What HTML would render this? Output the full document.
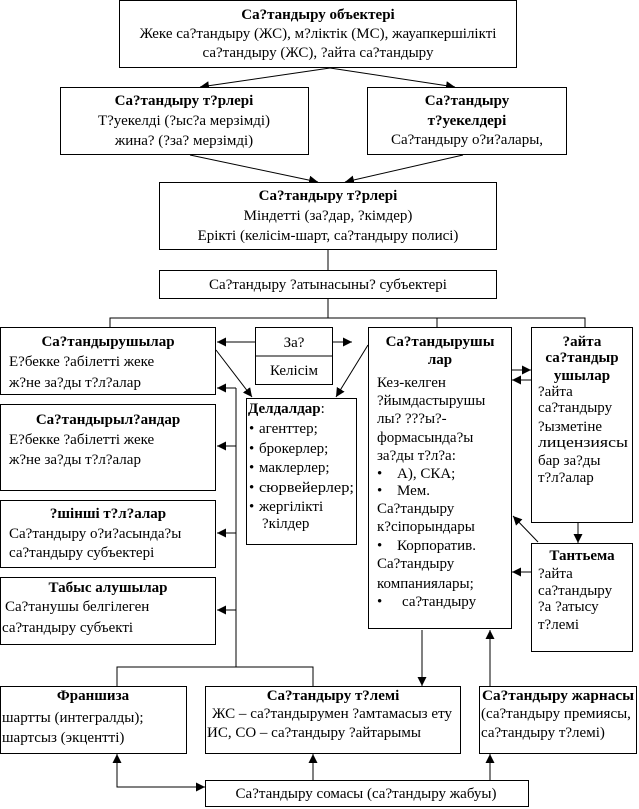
<!DOCTYPE html>
<html><head><meta charset="utf-8"><style>
html,body{margin:0;padding:0;background:#fff;}
svg{display:block;}
text{font-family:"Liberation Serif","DejaVu Serif",serif;font-size:15px;fill:#000;}
.b{font-weight:bold;}
.c{text-anchor:middle;}
rect{fill:#fff;stroke:#000;stroke-width:1;}
line,polyline{stroke:#000;stroke-width:1;fill:none;}
</style></head><body>
<svg width="639" height="809" viewBox="0 0 639 809" xmlns="http://www.w3.org/2000/svg">
<defs><marker id="a" viewBox="0 0 10 10" refX="10" refY="5" markerWidth="9" markerHeight="9" markerUnits="userSpaceOnUse" orient="auto"><path d="M0,0 L10,5 L0,10 z" fill="#000"/></marker></defs>

<!-- connectors -->
<line x1="330" y1="68" x2="200" y2="87" marker-end="url(#a)"/>
<line x1="330" y1="68" x2="455" y2="87" marker-end="url(#a)"/>
<line x1="190" y1="155" x2="318" y2="182" marker-end="url(#a)"/>
<line x1="463" y1="155" x2="345" y2="182" marker-end="url(#a)"/>
<line x1="328" y1="250" x2="328" y2="270"/>
<line x1="328" y1="298" x2="328" y2="318"/>
<polyline points="110,327 110,318 585,318 585,327"/>
<line x1="437" y1="318" x2="437" y2="327"/>
<line x1="255" y1="342" x2="217" y2="342" marker-end="url(#a)"/>
<line x1="332" y1="342" x2="352" y2="342" marker-end="url(#a)"/>
<line x1="216" y1="350" x2="252" y2="397" marker-end="url(#a)"/>
<line x1="368" y1="345" x2="336" y2="397" marker-end="url(#a)"/>
<line x1="236" y1="388" x2="236" y2="667"/>
<line x1="236" y1="388" x2="217" y2="388" marker-end="url(#a)"/>
<line x1="236" y1="446" x2="217" y2="446" marker-end="url(#a)"/>
<line x1="236" y1="533" x2="217" y2="533" marker-end="url(#a)"/>
<line x1="236" y1="610" x2="217" y2="610" marker-end="url(#a)"/>
<polyline points="117,686 117,667 313,667 313,686"/>
<line x1="512" y1="370" x2="531" y2="370" marker-end="url(#a)"/>
<line x1="531" y1="380" x2="512" y2="380" marker-end="url(#a)"/>
<line x1="538" y1="542" x2="513" y2="516" marker-end="url(#a)"/>
<line x1="531" y1="572" x2="512" y2="572" marker-end="url(#a)"/>
<line x1="578" y1="523" x2="578" y2="543" marker-end="url(#a)"/>
<line x1="422" y1="630" x2="422" y2="686" marker-end="url(#a)"/>
<line x1="490" y1="686" x2="490" y2="630" marker-end="url(#a)"/>
<line x1="313" y1="780" x2="313" y2="754" marker-end="url(#a)"/>
<line x1="490" y1="780" x2="490" y2="754" marker-end="url(#a)"/>
<line x1="117" y1="770" x2="117" y2="754" marker-end="url(#a)"/>
<polyline points="117,770 117,787 205,787" marker-end="url(#a)"/>

<!-- top boxes -->
<rect x="119.5" y="0.5" width="397" height="67"/>
<text class="b c" x="318" y="19">Са?тандыру объектері</text>
<text class="c" x="318" y="38">Жеке са?тандыру (ЖС), м?ліктік (МС), жауапкершілікті</text>
<text class="c" x="318" y="57">са?тандыру (ЖС), ?айта са?тандыру</text>

<rect x="60.5" y="87.5" width="248" height="67"/>
<text class="b c" x="184" y="105">Са?тандыру т?рлері</text>
<text class="c" x="184" y="125">Т?уекелді (?ыс?а мерзімді)</text>
<text class="c" x="184" y="145">жина? (?за? мерзімді)</text>

<rect x="367.5" y="87.5" width="199" height="67"/>
<text class="b c" x="467" y="105">Са?тандыру</text>
<text class="b c" x="467" y="125">т?уекелдері</text>
<text class="c" x="467" y="144">Са?тандыру о?и?алары,</text>

<rect x="159.5" y="182.5" width="337" height="67"/>
<text class="b c" x="328" y="200">Са?тандыру т?рлері</text>
<text class="c" x="328" y="220">Міндетті (за?дар, ?кімдер)</text>
<text class="c" x="328" y="240">Ерікті (келісім-шарт, са?тандыру полисі)</text>

<rect x="159.5" y="270.5" width="337" height="28"/>
<text class="c" x="328" y="289">Са?тандыру ?атынасыны? субъектері</text>

<!-- left column -->
<rect x="0.5" y="327.5" width="215" height="67"/>
<text class="b c" x="108" y="346">Са?тандырушылар</text>
<text x="9" y="366">Е?бекке ?абілетті жеке</text>
<text x="9" y="387">ж?не за?ды т?л?алар</text>

<rect x="0.5" y="404.5" width="215" height="86"/>
<text class="b c" x="108" y="424">Са?тандырыл?андар</text>
<text x="9" y="444">Е?бекке ?абілетті жеке</text>
<text x="9" y="464">ж?не за?ды т?л?алар</text>

<rect x="0.5" y="500.5" width="215" height="67"/>
<text class="b c" x="108" y="518">?шінші т?л?алар</text>
<text x="9" y="538">Са?тандыру о?и?асында?ы</text>
<text x="9" y="557">са?тандыру субъектері</text>

<rect x="0.5" y="577.5" width="215" height="67"/>
<text class="b c" x="108" y="592">Табыс алушылар</text>
<text x="5" y="611">Са?танушы белгілеген</text>
<text x="2" y="632">са?тандыру субъекті</text>

<!-- middle -->
<rect x="255.5" y="327.5" width="77" height="57"/>
<line x1="255" y1="356" x2="332" y2="356"/>
<text class="c" x="294" y="347">За?</text>
<text class="c" x="294" y="375">Келісім</text>

<rect x="246.5" y="398.5" width="110" height="146"/>
<text x="248" y="413"><tspan class="b">Делдалдар</tspan>:</text>
<text x="249" y="433">•</text><text x="259" y="433">агенттер;</text>
<text x="249" y="453">•</text><text x="259" y="453">брокерлер;</text>
<text x="249" y="472">•</text><text x="259" y="472">маклерлер;</text>
<text x="249" y="492">•</text><text x="259" y="492" textLength="95" lengthAdjust="spacingAndGlyphs">сюрвейерлер;</text>
<text x="249" y="511">•</text><text x="259" y="511">жергілікті</text>
<text x="262" y="528">?кілдер</text>

<rect x="368.5" y="327.5" width="143" height="301"/>
<text class="b c" x="440" y="346">Са?тандырушы</text>
<text class="b c" x="440" y="364">лар</text>
<text x="377" y="387">Кез-келген</text>
<text x="377" y="405">?йымдастырушы</text>
<text x="377" y="423">лы? ???ы?-</text>
<text x="377" y="442">формасында?ы</text>
<text x="377" y="460">за?ды т?л?а:</text>
<text x="377" y="478">•</text><text x="397" y="478">А), СКА;</text>
<text x="377" y="495">•</text><text x="397" y="495">Мем.</text>
<text x="377" y="513">Са?тандыру</text>
<text x="377" y="531">к?сіпорындары</text>
<text x="377" y="550">•</text><text x="397" y="550">Корпоратив.</text>
<text x="377" y="568">Са?тандыру</text>
<text x="377" y="588">компаниялары;</text>
<text x="377" y="606">•</text><text x="402" y="606">са?тандыру</text>

<rect x="531.5" y="327.5" width="101" height="195"/>
<text class="b c" x="582" y="346">?айта</text>
<text class="b c" x="582" y="362">са?тандыр</text>
<text class="b c" x="582" y="380">ушылар</text>
<text x="538" y="396">?айта</text>
<text x="538" y="412">са?тандыру</text>
<text x="538" y="431">?ызметіне</text>
<text x="538" y="447" textLength="90" lengthAdjust="spacingAndGlyphs">лицензиясы</text>
<text x="538" y="465">бар за?ды</text>
<text x="538" y="482">т?л?алар</text>

<rect x="531.5" y="543.5" width="101" height="108"/>
<text class="b c" x="582" y="560">Тантьема</text>
<text x="538" y="578">?айта</text>
<text x="538" y="595">са?тандыру</text>
<text x="538" y="611">?а ?атысу</text>
<text x="538" y="629">т?лемі</text>

<!-- bottom -->
<rect x="0.5" y="686.5" width="186" height="67"/>
<text class="b c" x="93" y="700">Франшиза</text>
<text x="2" y="722">шартты (интегралды);</text>
<text x="2" y="742">шартсыз (экцентті)</text>

<rect x="205.5" y="686.5" width="255" height="67"/>
<text class="b c" x="333" y="700">Са?тандыру т?лемі</text>
<text x="212" y="718" textLength="240" lengthAdjust="spacingAndGlyphs">ЖС – са?тандырумен ?амтамасыз ету</text>
<text x="207" y="737">ИС, СО – са?тандыру ?айтарымы</text>

<rect x="479.5" y="686.5" width="157" height="67"/>
<text class="b c" x="558" y="700" textLength="152" lengthAdjust="spacingAndGlyphs">Са?тандыру жарнасы</text>
<text x="481" y="718">(са?тандыру премиясы,</text>
<text x="481" y="737">са?тандыру т?лемі)</text>

<rect x="205.5" y="780.5" width="323" height="26"/>
<text class="c" x="366" y="798">Са?тандыру сомасы (са?тандыру жабуы)</text>
</svg>
</body></html>
